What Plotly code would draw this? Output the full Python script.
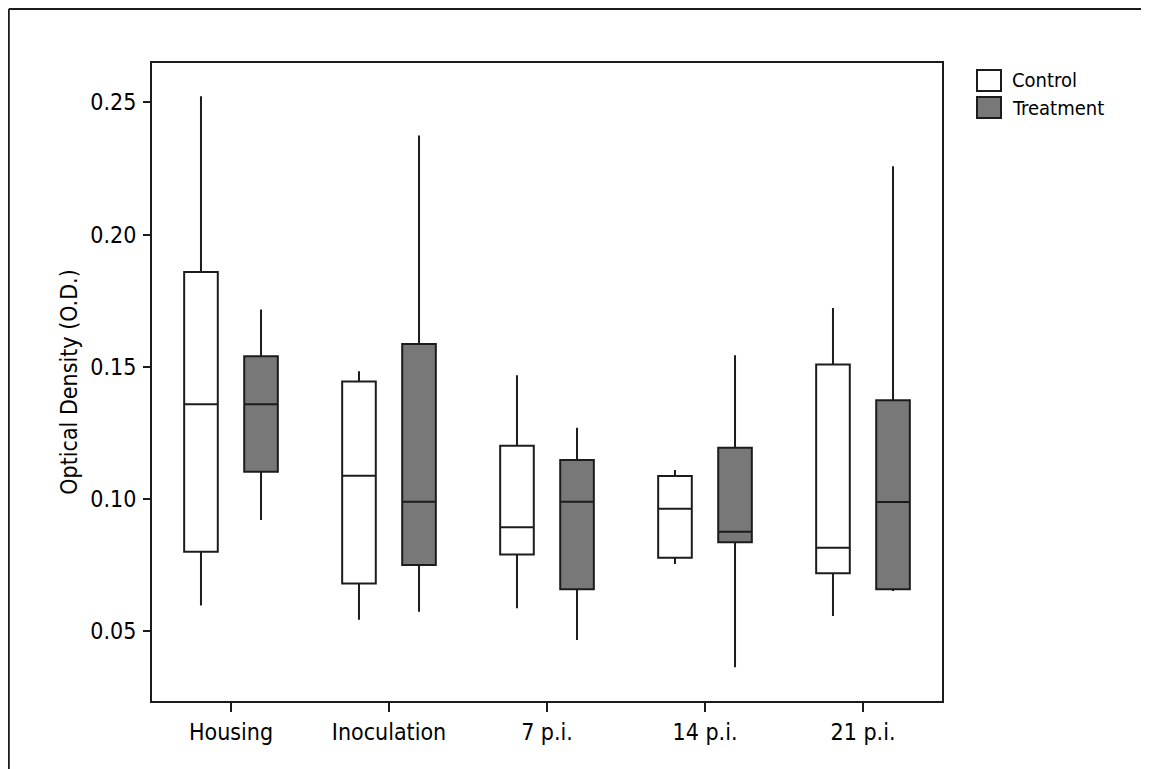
import plotly.graph_objects as go

categories = ["Housing", "Inoculation", "7 p.i.", "14 p.i.", "21 p.i."]

control_lower = [0.0596, 0.0542, 0.0586, 0.0753, 0.0557]
control_q1 = [0.0800, 0.0680, 0.0789, 0.0777, 0.0718]
control_median = [0.1358, 0.1087, 0.0892, 0.0962, 0.0815]
control_q3 = [0.1858, 0.1444, 0.1201, 0.1086, 0.1508]
control_upper = [0.2523, 0.1483, 0.1468, 0.1109, 0.1722]

treat_lower = [0.0920, 0.0573, 0.0466, 0.0363, 0.0651]
treat_q1 = [0.1102, 0.0750, 0.0658, 0.0836, 0.0658]
treat_median = [0.1358, 0.0989, 0.0989, 0.0875, 0.0988]
treat_q3 = [0.1539, 0.1586, 0.1147, 0.1193, 0.1373]
treat_upper = [0.1716, 0.2375, 0.1269, 0.1543, 0.2258]

y_ticks = [0.05, 0.10, 0.15, 0.20, 0.25]
y_tick_text = ["0.05", "0.10", "0.15", "0.20", "0.25"]

series_names = ["Control", "Treatment"]
series_fills = ["white", "#787878"]

LINE = "#1c1c1c"
FONT = "DejaVu Sans Condensed, DejaVu Sans"

fig = go.Figure()
fig.add_trace(go.Box(
    name=series_names[0], x=categories,
    q1=control_q1, median=control_median, q3=control_q3,
    lowerfence=control_lower, upperfence=control_upper,
    fillcolor=series_fills[0], line=dict(color=LINE, width=2),
    whiskerwidth=0, boxpoints=False, showlegend=False,
))
fig.add_trace(go.Box(
    name=series_names[1], x=categories,
    q1=treat_q1, median=treat_median, q3=treat_q3,
    lowerfence=treat_lower, upperfence=treat_upper,
    fillcolor=series_fills[1], line=dict(color=LINE, width=2),
    whiskerwidth=0, boxpoints=False, showlegend=False,
))

# page is offset by the default 8px body margin
W, H = 1141, 761
L, R, T, B = 144, 934, 55, 693
pw, ph = R - L, B - T


def px_x(x):
    return (x - L) / pw


def px_y(y):
    return (B - y) / ph


fx, fy = px_x(0.8), px_y(1)
shapes = [
    dict(type="line", xref="paper", yref="paper", x0=fx, x1=fx, y0=-0.3, y1=fy,
         line=dict(color=LINE, width=2)),
    dict(type="line", xref="paper", yref="paper", x0=fx, x1=1.6, y0=fy, y1=fy,
         line=dict(color=LINE, width=2)),
]

# custom legend (large swatches like the original)
annotations = []
for i, (nm, fc) in enumerate(zip(series_names, series_fills)):
    top = 62 + i * 27
    shapes.append(dict(type="rect", xref="paper", yref="paper",
                       x0=px_x(969), x1=px_x(993), y0=px_y(top + 21), y1=px_y(top),
                       fillcolor=fc, line=dict(color=LINE, width=2)))
    annotations.append(dict(xref="paper", yref="paper", x=px_x(1002), y=px_y(top + 10.5),
                            xanchor="left", yanchor="middle", showarrow=False, text=nm,
                            font=dict(family=FONT, size=20, color="black")))

fig.update_layout(
    width=W, height=H,
    margin=dict(l=L, r=W - R, t=T, b=H - B, autoexpand=False),
    paper_bgcolor="white", plot_bgcolor="white",
    boxmode="group", boxgap=0.24, boxgroupgap=0.44,
    font=dict(family=FONT, color="black", size=23),
    showlegend=False,
    shapes=shapes,
    annotations=annotations,
    xaxis=dict(type="category", range=[-0.5, 4.5], showgrid=False, zeroline=False,
               showline=True, linecolor=LINE, linewidth=2, mirror=True,
               ticks="outside", ticklen=9, tickwidth=2, tickcolor=LINE,
               tickfont=dict(family=FONT, size=23, color="black")),
    yaxis=dict(range=[0.0235, 0.2649], showgrid=False, zeroline=False,
               showline=True, linecolor=LINE, linewidth=2, mirror=True,
               ticks="outside", ticklen=7, tickwidth=2, tickcolor=LINE,
               tickvals=y_ticks, ticktext=y_tick_text, ticklabelstandoff=2,
               tickfont=dict(family=FONT, size=23, color="black"),
               title=dict(text="Optical Density (O.D.)", standoff=6,
                          font=dict(family=FONT, size=23, color="black"))),
)

fig.write_html("out.html")
